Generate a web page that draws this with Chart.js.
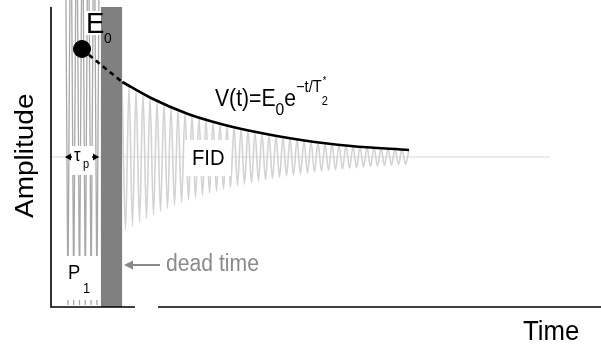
<!DOCTYPE html>
<html><head><meta charset="utf-8">
<script src="https://cdn.jsdelivr.net/npm/chart.js@4.4.1/dist/chart.umd.min.js"></script>
<style>html,body{margin:0;padding:0;background:#fff;}canvas{display:block;}</style>
</head><body>
<canvas id="c" width="601" height="345"></canvas>
<script>
// ---- data (time axis units, amplitude units; baseline = 0) ----
const axisTime = [0, 55];
const axisAmp = [-15, 15];
const baselineTimes = [0, 49.9];
const pulseTimes = [1.40,1.69,1.98,2.27,2.56,2.85,3.14,3.43,3.72,4.01,4.30,4.59,4.88];
const pulseValues = [30,-14.8,30,-14.8,30,-14.8,30,-14.8,30,-14.8,30,-14.8,30];
const deadTime = [4.97, 7.13];
const deadAmp = [-15, 15];
const fidTimes = [7.10,7.45,7.80,8.15,8.50,8.85,9.20,9.55,9.90,10.25,
 10.60,10.95,11.30,11.65,12.00,12.35,12.70,13.05,13.40,13.75,
 14.10,14.45,14.80,15.15,15.50,15.85,16.20,16.55,16.90,17.25,
 17.60,17.95,18.30,18.65,19.00,19.35,19.70,20.05,20.40,20.75,
 21.10,21.45,21.80,22.15,22.50,22.85,23.20,23.55,23.90,24.25,
 24.60,24.95,25.30,25.65,26.00,26.35,26.70,27.05,27.40,27.75,
 28.10,28.45,28.80,29.15,29.50,29.85,30.20,30.55,30.90,31.25,
 31.60,31.95,32.30,32.65,33.00,33.35,33.70,34.05,34.40,34.75,
 35.10,35.45,35.80];
const fidValues = [7.50,-7.28,7.08,-6.87,6.67,-6.48,6.30,-6.12,5.94,-5.77,
 5.60,-5.44,5.29,-5.13,4.99,-4.84,4.70,-4.57,4.44,-4.31,
 4.19,-4.07,3.95,-3.84,3.72,-3.62,3.51,-3.41,3.31,-3.22,
 3.13,-3.04,2.95,-2.86,2.78,-2.70,2.62,-2.55,2.48,-2.40,
 2.34,-2.27,2.20,-2.14,2.08,-2.02,1.96,-1.90,1.85,-1.80,
 1.74,-1.69,1.65,-1.60,1.55,-1.51,1.46,-1.42,1.38,-1.34,
 1.30,-1.27,1.23,-1.19,1.16,-1.13,1.09,-1.06,1.03,-1.00,
 0.97,-0.95,0.92,-0.89,0.87,-0.84,0.82,-0.79,0.77,-0.75,
 0.73,-0.71,0.69];
const envDashedTimes = [3.10, 4.90, 7.13];
const envDashedValues = [10.8, 9.3, 7.5];
const envTimes = [7.13, 10.0, 13.7, 17.0, 20.0, 25.0, 30.0, 35.8];
const envValues = [7.5, 5.9, 4.3, 3.3, 2.6, 1.7, 1.1, 0.70];
const e0Time = [3.10];
const e0Value = [10.8];
const xAxisBreak = [8.4, 10.7];

const pts = (ts, vs) => ts.map((t, i) => ({x: t, y: vs[i]}));
const SX = 0.92;
const FONT = '"Liberation Sans", Arial, Helvetica, sans-serif';

function text(ctx, s, x, y, size, color, rot) {
  ctx.save();
  ctx.translate(x, y);
  ctx.scale(SX, 1);
  if (rot) ctx.rotate(rot);
  ctx.font = size + 'px ' + FONT;
  ctx.fillStyle = color || '#000';
  ctx.textBaseline = 'alphabetic';
  ctx.fillText(s, 0, 0);
  const w = ctx.measureText(s).width * SX;
  ctx.restore();
  return w;
}
function runs(ctx, x, y, list) {
  let cx = x;
  for (const r of list) {
    const w = text(ctx, r.t, cx, y + (r.dy || 0), r.size, r.color);
    cx += w + (r.gap || 0);
  }
  return cx;
}
function box(ctx, x, y, w, h) { ctx.fillStyle = '#fff'; ctx.fillRect(x, y, w, h); }
function arrowHead(ctx, tipX, tipY, dir, len, half, color) {
  ctx.beginPath();
  ctx.moveTo(tipX, tipY);
  ctx.lineTo(tipX - dir * len, tipY - half);
  ctx.lineTo(tipX - dir * len, tipY + half);
  ctx.closePath();
  ctx.fillStyle = color; ctx.fill();
}

const decor = {
  id: 'decor',
  afterDatasetsDraw(chart) {
    const ctx = chart.ctx, xs = chart.scales.x, ys = chart.scales.y;
    const X = v => xs.getPixelForValue(v), Y = v => ys.getPixelForValue(v);
    ctx.save();
    // axes
    ctx.strokeStyle = '#000'; ctx.lineWidth = 1.6;
    ctx.beginPath();
    ctx.moveTo(X(axisTime[0]), Y(axisAmp[1]));
    ctx.lineTo(X(axisTime[0]), Y(axisAmp[0]));
    ctx.lineTo(X(xAxisBreak[0]), Y(axisAmp[0]));
    ctx.moveTo(X(xAxisBreak[1]), Y(axisAmp[0]));
    ctx.lineTo(X(axisTime[1]), Y(axisAmp[0]));
    ctx.stroke();
    // label boxes
    box(ctx, 85, 11, 16, 24);
    box(ctx, 72, 146, 21, 29);
    box(ctx, 60, 256, 40, 44);
    box(ctx, 185, 140, 46, 36);
    // tau_p arrows
    const y0 = Y(0);
    ctx.strokeStyle = '#000'; ctx.lineWidth = 1.4;
    ctx.beginPath(); ctx.moveTo(66, y0); ctx.lineTo(72, y0); ctx.moveTo(92, y0); ctx.lineTo(98, y0); ctx.stroke();
    arrowHead(ctx, 65, y0, -1, 6, 3.5, '#000');
    arrowHead(ctx, 99, y0, 1, 6, 3.5, '#000');
    // dead time arrow
    ctx.strokeStyle = '#8a8a8a'; ctx.lineWidth = 2;
    ctx.beginPath(); ctx.moveTo(131, 265); ctx.lineTo(160, 265); ctx.stroke();
    arrowHead(ctx, 124, 265, -1, 9, 4.5, '#8a8a8a');
    // texts
    text(ctx, 'E', 86, 33, 30);
    text(ctx, '0', 104, 43, 15);
    text(ctx, 'Amplitude', 33, 218, 28, '#000', -Math.PI / 2);
    text(ctx, 'Time', 523, 340, 28);
    text(ctx, 'τ', 74, 161, 18);
    text(ctx, 'p', 83, 168, 12);
    text(ctx, 'P', 68, 279, 20);
    text(ctx, '1', 83, 293, 14);
    text(ctx, 'FID', 192, 165, 22);
    text(ctx, 'dead time', 166, 271, 23, '#8a8a8a');
    const ex = runs(ctx, 215, 106, [
      {t: 'V(t)=E', size: 23},
      {t: '0', size: 17, dy: 9},
      {t: 'e', size: 23},
      {t: '−t/T', size: 16, dy: -14}
    ]);
    text(ctx, '*', ex + 1, 84, 10);
    text(ctx, '2', ex + 0, 105, 12);
    ctx.restore();
  }
};

new Chart(document.getElementById('c'), {
  type: 'line',
  data: {
    datasets: [
      {label: 'E0', data: pts(e0Time, e0Value), showLine: false, pointRadius: 8.5,
       pointBackgroundColor: '#000', pointBorderColor: '#000', order: 1},
      {label: 'envelope', data: pts(envTimes, envValues), borderColor: '#000', borderWidth: 2.6,
       cubicInterpolationMode: 'monotone', pointRadius: 0, fill: false, order: 2},
      {label: 'envelope extrapolated', data: pts(envDashedTimes, envDashedValues), borderColor: '#000',
       borderWidth: 2.6, borderDash: [5, 4], cubicInterpolationMode: 'monotone', pointRadius: 0, fill: false, order: 3},
      {label: 'dead time', data: pts(deadTime, [deadAmp[1], deadAmp[1]]), borderWidth: 0,
       backgroundColor: '#808080', fill: {value: deadAmp[0]}, pointRadius: 0, order: 7},
      {label: 'pulse', data: pts(pulseTimes, pulseValues), borderColor: '#a8a8a8', borderWidth: 1.3,
       tension: 0, pointRadius: 0, fill: false, order: 8},
      {label: 'FID', data: pts(fidTimes, fidValues), borderColor: '#d2d2d2', borderWidth: 1.6,
       cubicInterpolationMode: 'monotone', pointRadius: 0, fill: false, order: 9},
      {label: 'baseline', data: pts(baselineTimes, [0, 0]), borderColor: '#e6e6e6', borderWidth: 1.5,
       pointRadius: 0, fill: false, order: 10}
    ]
  },
  options: {
    responsive: false, animation: false, devicePixelRatio: 1, events: [],
    layout: {autoPadding: false, padding: {left: 51, right: 0, top: 0, bottom: 38}},
    scales: {
      x: {type: 'linear', min: axisTime[0], max: axisTime[1], display: false},
      y: {type: 'linear', min: axisAmp[0], max: 15.7, display: false}
    },
    plugins: {legend: {display: false}, tooltip: {enabled: false}}
  },
  plugins: [decor]
});
</script>
</body></html>
